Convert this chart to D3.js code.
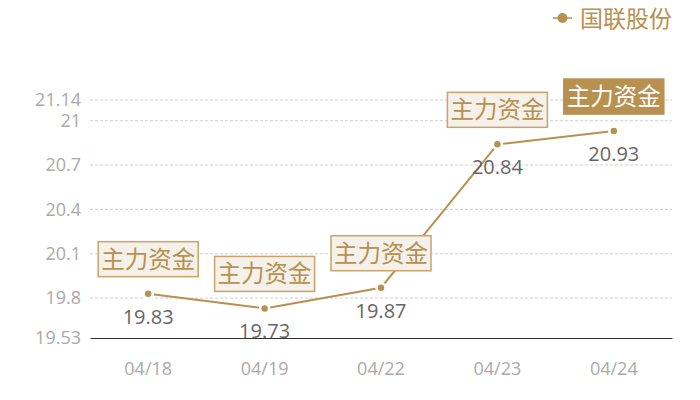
<!DOCTYPE html>
<html>
<head>
<meta charset="utf-8">
<script src="https://cdn.jsdelivr.net/npm/d3@7"></script>
<style>
  body { margin: 0; background: #fff; }
  text { font-family: "Open Sans", "Noto Sans CJK SC", sans-serif; }
</style>
</head>
<body>
<script>
// data
const dates = ["04/18", "04/19", "04/22", "04/23", "04/24"];
const prices = [19.83, 19.73, 19.87, 20.84, 20.93];
const yTicks = [19.53, 19.8, 20.1, 20.4, 20.7, 21, 21.14];
const markLabel = "主力资金";
const highlighted = [false, false, false, false, true];
const seriesName = "国联股份";

const width = 700, height = 400;
const gold = "#b8904f";

const svg = d3.select("body").append("svg")
    .attr("width", width)
    .attr("height", height);

const x = d3.scaleBand().domain(dates).range([90, 672]);
const y = d3.scaleLinear().domain([19.53, 21.14]).range([338, 100]);

// grid lines
svg.append("g")
    .selectAll("line")
    .data(yTicks.slice(1))
    .join("line")
    .attr("x1", 90).attr("x2", 672)
    .attr("y1", d => y(d)).attr("y2", d => y(d))
    .attr("stroke", "#d0d0d0")
    .attr("stroke-dasharray", "3,2");

// y axis labels
const yAxis = svg.append("g")
    .attr("transform", "translate(81,0)")
    .call(d3.axisLeft(y).tickValues(yTicks).tickSize(0).tickPadding(0).tickFormat(d => d));
yAxis.select(".domain").remove();
yAxis.selectAll("text")
    .attr("fill", "#aaaaaa")
    .style("font-size", "18px");

// x axis
const xAxis = svg.append("g")
    .attr("transform", "translate(0,338)")
    .call(d3.axisBottom(x).tickSize(0).tickPadding(24));
xAxis.select(".domain").attr("stroke", "#333").attr("stroke-width", 1.2);
xAxis.selectAll("text")
    .attr("fill", "#aaaaaa")
    .style("font-size", "18px");

const cx = d => x(d) + x.bandwidth() / 2;

// line
svg.append("path")
    .datum(prices)
    .attr("fill", "none")
    .attr("stroke", gold)
    .attr("stroke-width", 2)
    .attr("d", d3.line().x((d, i) => cx(dates[i])).y(d => y(d)));

// points
svg.append("g")
    .selectAll("circle")
    .data(prices)
    .join("circle")
    .attr("cx", (d, i) => cx(dates[i]))
    .attr("cy", d => y(d))
    .attr("r", 4.5)
    .attr("fill", gold)
    .attr("stroke", "#fff")
    .attr("stroke-width", 2.5);

// value labels
svg.append("g")
    .selectAll("text")
    .data(prices)
    .join("text")
    .attr("x", (d, i) => cx(dates[i]))
    .attr("y", d => y(d) + 30)
    .attr("text-anchor", "middle")
    .attr("fill", "#666")
    .style("font-size", "20px")
    .text(d => d.toFixed(2));

// annotation boxes
const boxes = svg.append("g")
    .selectAll("g")
    .data(prices)
    .join("g")
    .attr("transform", (d, i) => `translate(${cx(dates[i])},${y(d) - 17})`);

boxes.append("rect")
    .attr("x", -50).attr("y", -35)
    .attr("width", 100).attr("height", 35)
    .attr("fill", (d, i) => highlighted[i] ? gold : "#f4f0ea")
    .attr("stroke", (d, i) => highlighted[i] ? gold : "#c9a36b")
    .attr("stroke-width", 1.5);

boxes.append("text")
    .attr("x", 0).attr("y", -9)
    .attr("text-anchor", "middle")
    .attr("fill", (d, i) => highlighted[i] ? "#fff" : gold)
    .style("font-size", "23.5px")
    .style("font-family", "'Noto Sans CJK SC', sans-serif")
    .text(markLabel);

// legend
const legend = svg.append("g").attr("transform", "translate(553,18)");
legend.append("line")
    .attr("x1", 0).attr("x2", 19)
    .attr("stroke", gold).attr("stroke-width", 1.5);
legend.append("circle")
    .attr("cx", 9.5).attr("r", 5)
    .attr("fill", gold);
legend.append("text")
    .attr("x", 27).attr("y", 8.5)
    .attr("fill", gold)
    .style("font-size", "23px")
    .style("font-family", "'Noto Sans CJK SC', sans-serif")
    .text(seriesName);
</script>
</body>
</html>
